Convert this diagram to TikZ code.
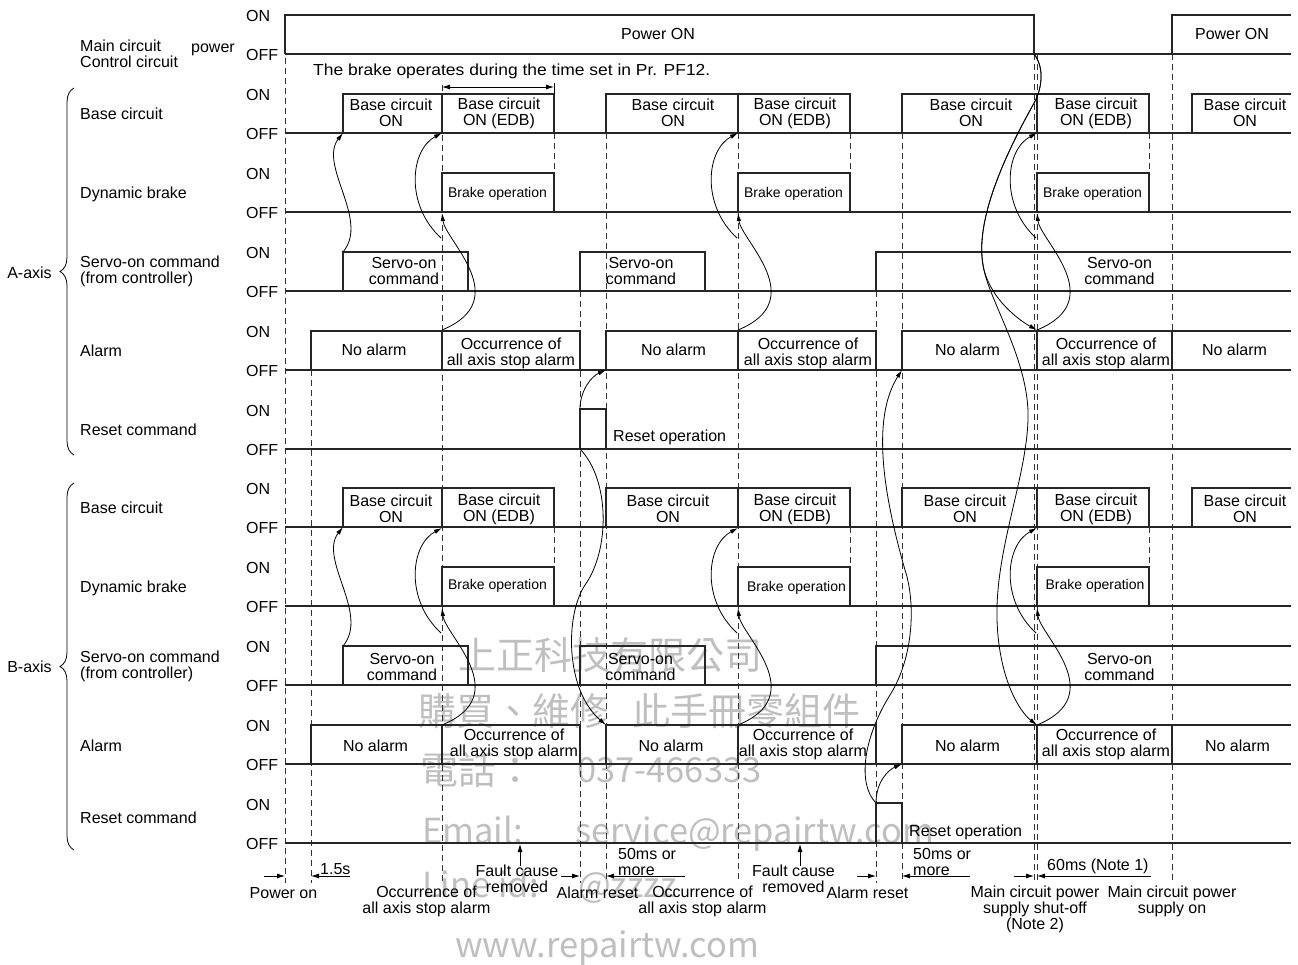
\documentclass[tikz,border=0pt]{standalone}
\usepackage{fontspec}
\usepackage{graphicx}
\setmainfont{Liberation Sans}
\newfontfamily\cjkfont{Noto Sans CJK TC}
\usetikzlibrary{arrows.meta,decorations.pathreplacing}
\newcommand\wpulse[4]{\draw[wave] ({#1},{#3}) -- ({#1},{#4}) -- ({#2},{#4}) -- ({#2},{#3});}
\newcommand\wopen[3]{\draw[wave] ({#1},{#2}) -- ({#1},{#3}) -- (1291,{#3});}
\newcommand\alcurves[3]{%
  \coordinate (al#1) at (#2,{#3});
  \coordinate (db#1) at (#2,{#3-117});
  \coordinate (bs#1) at (#2,{#3-197});
  \coordinate (br#1) at ({#2-1},{#3-92});
  \draw[crv] (al#1) .. controls +(73,-30) and +(3,27) .. (db#1);
  \draw[crv] (br#1) .. controls +(-36,-33) and +(-32,17) .. (bs#1);
}
\begin{document}
\begin{tikzpicture}[x=1pt,y=-1pt,
  wave/.style={draw=black!85,line width=1.1pt},
  dline/.style={draw=black!80,line width=0.9pt,dash pattern=on 6pt off 4pt},
  crv/.style={draw=black,line width=0.8pt,-{Latex[length=8pt,width=4.5pt]}},
  tarr/.style={draw=black,line width=0.8pt,-{Latex[length=8pt,width=5pt]}},
  t/.style={font=\fontsize{16}{16}\selectfont,inner sep=0pt,align=center},
  st/.style={font=\fontsize{14}{14}\selectfont,inner sep=0pt},
  wm/.style={text=black!25,font=\cjkfont\fontsize{38}{38}\selectfont,inner sep=0pt},
  wml/.style={text=black!25,font=\cjkfont\fontsize{34.5}{34.5}\selectfont,inner sep=0pt},
  brc/.style={draw=black,line width=0.8pt,decorate,decoration={brace,amplitude=14pt}}
]
\fill[white] (0,0) rectangle (1298,965);
\useasboundingbox (0,0) rectangle (1298,965);

% watermark
\node[wm,anchor=west] (wm1) at (458,655) {上正科技有限公司};
\node[wm,anchor=west] (wm2) at (418,711) {購買、維修};
\node[wm,anchor=west] (wm3) at (632,711) {此手冊零組件};
\node[wm,anchor=west] (wm4) at (420,770) {電話：};
\node[wml,anchor=base west] (wm5) at (577,782) {037-466333};
\node[wml,anchor=base west] (wm6) at (422,843) {Email:};
\node[wml,anchor=base west] (wm7) at (575,843) {service@repairtw.com};
\node[wml,anchor=base west] (wm8) at (422,897) {Line id:};
\node[wml,anchor=base west] (wm9) at (578,897) {@zzzz};
\node[wml,anchor=base west] (wm10) at (455,957) {www.repairtw.com};

% dashed guide lines
\foreach \x/\a/\b in {285/58/883, 311/370/883, 442/85/883, 580/291/883, 606/133/883,
  738/133/883, 876/291/883, 902/133/883, 1034/54/883, 1037/54/883, 1172/54/883,
  554/133/173, 554/527/567, 850/133/173, 850/527/567, 1149/133/173, 1149/527/567}
  \draw[dline] (\x,\a) -- (\x,\b);

% baselines
\foreach \o in {54,133,212,291,370,449,527,606,685,764,843}
  \draw[wave] (285,\o) -- (1291,\o);

% main circuit power
\wpulse{285}{1034}{54}{15}
\wopen{1172}{54}{15}

% base circuit
\foreach \o in {133,527}{
  \wpulse{343}{442}{\o}{\o-39}
  \wpulse{442}{554}{\o}{\o-39}
  \wpulse{606}{738}{\o}{\o-39}
  \wpulse{738}{850}{\o}{\o-39}
  \wpulse{902}{1037}{\o}{\o-39}
  \wpulse{1037}{1149}{\o}{\o-39}
  \wopen{1192}{\o}{\o-39}
}
% dynamic brake
\foreach \o in {212,606}{
  \wpulse{442}{554}{\o}{\o-39}
  \wpulse{738}{850}{\o}{\o-39}
  \wpulse{1037}{1149}{\o}{\o-39}
}
% servo-on
\foreach \o in {291,685}{
  \wpulse{343}{468}{\o}{\o-39}
  \wpulse{580}{705}{\o}{\o-39}
  \wopen{876}{\o}{\o-39}
}
% alarm
\foreach \o in {370,764}{
  \wpulse{311}{442}{\o}{\o-39}
  \wpulse{442}{580}{\o}{\o-39}
  \wpulse{606}{738}{\o}{\o-39}
  \wpulse{738}{876}{\o}{\o-39}
  \wpulse{902}{1037}{\o}{\o-39}
  \wpulse{1037}{1172}{\o}{\o-39}
  \wopen{1172}{\o}{\o-39}
}
% reset
\wpulse{580}{606}{449}{409}
\wpulse{876}{902}{843}{803}

% ON / OFF labels
\foreach \o [count=\i] in {54,133,212,291,370,449,527,606,685,764,843}{
  \node[t,anchor=west] (on\i) at (246,\o-38) {ON};
  \node[t,anchor=west] (off\i) at (246,\o+1) {OFF};
}

% left labels
\node[t,anchor=west,align=left] (lmain) at (80,53.5) {Main circuit\\Control circuit};
\node[t,anchor=west] (lpow) at (191,50) {power};
\node[t,anchor=west] (laBase) at (80,114) {Base circuit};
\node[t,anchor=west] (laDyn) at (80,194) {Dynamic brake};
\node[t,anchor=west,align=left] (laSrv) at (80,271) {Servo-on command\\(from controller)};
\node[t,anchor=west] (laAlm) at (80,351) {Alarm};
\node[t,anchor=west] (laRst) at (80,430) {Reset command};
\node[t,anchor=west] (lbBase) at (80,508) {Base circuit};
\node[t,anchor=west] (lbDyn) at (80,588) {Dynamic brake};
\node[t,anchor=west,align=left] (lbSrv) at (80,666) {Servo-on command\\(from controller)};
\node[t,anchor=west] (lbAlm) at (80,746) {Alarm};
\node[t,anchor=west] (lbRst) at (80,818) {Reset command};
\draw[brc] (74,455) -- (74,88);
\draw[brc] (74,850) -- (74,483);
\node[t] (axA) at (29.5,273) {A-axis};
\node[t] (axB) at (29.5,667) {B-axis};

% top texts
\node[t] (pon1) at (658,34) {Power ON};
\node[t] (pon2) at (1232,34) {Power ON};
\node[t,anchor=west] (pf12) at (313,71) {\scalebox{1.09}[1]{The brake operates during the time set in Pr. PF12.}};
\coordinate (pfL) at (442,87);
\coordinate (pfR) at (554,87);
\draw[line width=0.8pt,{Latex[length=8pt,width=5pt]}-{Latex[length=8pt,width=5pt]}] (pfL) -- (pfR);
\draw[line width=0.8pt] (554,83) -- (554,94);

% base circuit texts
\foreach \yy/\nm in {113/a,509/b}{
  \node[t] (bc1\nm) at (391,\yy) {Base circuit\\ON};
  \node[t] (bc2\nm) at (499,\yy) {Base circuit\\ON (EDB)};
  \node[t] (bc4\nm) at (795,\yy) {Base circuit\\ON (EDB)};
  \node[t] (bc6\nm) at (1096,\yy) {Base circuit\\ON (EDB)};
  \node[t] (bc7\nm) at (1245,\yy) {Base circuit\\ON};
}
\node[t] (bc3a) at (673,113) {Base circuit\\ON};
\node[t] (bc5a) at (971,113) {Base circuit\\ON};
\node[t] (bc3b) at (668,509) {Base circuit\\ON};
\node[t] (bc5b) at (965,509) {Base circuit\\ON};

% brake operation texts
\node[st] (br1a) at (497.5,194) {Brake operation};
\node[st] (br2a) at (793.5,194) {Brake operation};
\node[st] (br3a) at (1092.5,194) {Brake operation};
\node[st] (br1b) at (497.5,586) {Brake operation};
\node[st] (br2b) at (796.5,588) {Brake operation};
\node[st] (br3b) at (1095,586) {Brake operation};

% servo-on texts
\node[t] (sv1a) at (404,271) {Servo-on\\command};
\node[t] (sv2a) at (641,271) {Servo-on\\command};
\node[t] (sv3a) at (1119.5,271) {Servo-on\\command};
\node[t] (sv1b) at (402,666.5) {Servo-on\\command};
\node[t] (sv2b) at (640.5,666.5) {Servo-on\\command};
\node[t] (sv3b) at (1119.5,666.5) {Servo-on\\command};

% alarm texts
\node[t] (al1a) at (374,350) {No alarm};
\node[t] (al2a) at (511,353) {Occurrence of\\all axis stop alarm};
\node[t] (al3a) at (673.5,350) {No alarm};
\node[t] (al4a) at (808,353) {Occurrence of\\all axis stop alarm};
\node[t] (al5a) at (967.5,350) {No alarm};
\node[t] (al6a) at (1106,353) {Occurrence of\\all axis stop alarm};
\node[t] (al7a) at (1234.5,350) {No alarm};
\node[t] (al1b) at (375.5,746) {No alarm};
\node[t] (al2b) at (514,744) {Occurrence of\\all axis stop alarm};
\node[t] (al3b) at (671,746) {No alarm};
\node[t] (al4b) at (803,744) {Occurrence of\\all axis stop alarm};
\node[t] (al5b) at (967.5,746) {No alarm};
\node[t] (al6b) at (1106,744) {Occurrence of\\all axis stop alarm};
\node[t] (al7b) at (1237.5,746) {No alarm};

% reset operation texts
\node[t,anchor=west] (ro1) at (613,437) {Reset operation};
\node[t,anchor=west] (ro2) at (909,832) {Reset operation};

% causal curves
\coordinate (aSrvOn) at (343,252);
\coordinate (aBaseOn) at (343,133);
\draw[crv] (aSrvOn) .. controls +(27,-32) and +(-25,32) .. (aBaseOn);
\coordinate (bSrvOn) at (343,646);
\coordinate (bBaseOn) at (343,527);
\draw[crv] (bSrvOn) .. controls +(27,-32) and +(-25,32) .. (bBaseOn);

\alcurves{A1}{442}{330}
\alcurves{A2}{738}{330}
\alcurves{A3}{1037}{330}
\alcurves{B1}{442}{725}
\alcurves{B2}{738}{725}
\alcurves{B3}{1037}{725}

\coordinate (aRstOn) at (580,409);
\coordinate (aAlmClr) at (606,370);
\draw[crv] (aRstOn) .. controls +(0,-19) and +(-14,6) .. (aAlmClr);
\coordinate (aRstOff) at (580,449);
\coordinate (bAlmClr) at (606,725);
\draw[crv] (aRstOff) .. controls (610,480) and (610,550) .. (585,585)
  .. controls (565,615) and (565,690) .. (bAlmClr);

\coordinate (bRstOn) at (876,803);
\coordinate (aAlmClr2) at (902,370);
\coordinate (bAlmClr2) at (902,764);
\draw[crv] (bRstOn) .. controls (858,785) and (862,740) .. (890,695)
  .. controls (915,655) and (915,600) .. (905,570)
  .. controls (885,500) and (870,420) .. (aAlmClr2);
\draw[crv] (bRstOn) .. controls +(0,-21) and +(-14,6) .. (bAlmClr2);

\coordinate (mainOff) at (1034,54);
\draw[crv] (mainOff) .. controls (1045,68) and (1042,90) .. (1033,105)
  .. controls (1005,155) and (975,220) .. (983,265)
  .. controls (988,295) and (1015,318) .. (alA3);
\draw[crv] (mainOff) .. controls (1045,68) and (1042,90) .. (1033,105)
  .. controls (1005,155) and (975,220) .. (983,265)
  .. controls (988,300) and (1030,360) .. (1028,420)
  .. controls (1026,480) and (995,550) .. (997,620)
  .. controls (999,680) and (1020,712) .. (alB3);

% bottom timing arrows
\coordinate (t0a) at (264,876); \coordinate (t0b) at (285,876);
\coordinate (t1a) at (350,876); \coordinate (t1b) at (311,876);
\draw[tarr] (t0a) -- (t0b);
\draw[tarr] (t1a) -- (t1b);
\node[t,anchor=west] (d15) at (320,869) {1.5s};
\coordinate (t2a) at (561,876); \coordinate (t2b) at (580,876);
\coordinate (t3a) at (685,876); \coordinate (t3b) at (606,876);
\draw[tarr] (t2a) -- (t2b);
\draw[tarr] (t3a) -- (t3b);
\node[t,anchor=west,align=left] (d50a) at (618,862) {50ms or\\more};
\coordinate (t4a) at (857,876); \coordinate (t4b) at (876,876);
\coordinate (t5a) at (970,876); \coordinate (t5b) at (902,876);
\draw[tarr] (t4a) -- (t4b);
\draw[tarr] (t5a) -- (t5b);
\node[t,anchor=west,align=left] (d50b) at (913,862) {50ms or\\more};
\coordinate (t6a) at (1014,876); \coordinate (t6b) at (1034,876);
\coordinate (t7a) at (1151,876); \coordinate (t7b) at (1037,876);
\draw[tarr] (t6a) -- (t6b);
\draw[tarr] (t7a) -- (t7b);
\node[t,anchor=west] (d60) at (1047,866) {60ms (Note 1)};

% fault cause arrows
\coordinate (fc1b) at (520,866); \coordinate (fc1t) at (520,844);
\coordinate (fc2b) at (800,866); \coordinate (fc2t) at (800,844);
\draw[tarr] (fc1b) -- (fc1t);
\draw[tarr] (fc2b) -- (fc2t);

% bottom labels
\node[t] (bl1) at (283.5,893) {Power on};
\node[t] (bl2) at (426.5,901) {Occurrence of\\all axis stop alarm};
\node[t] (bl3) at (517,878.5) {Fault cause\\removed};
\node[t] (bl4) at (597.5,893) {Alarm reset};
\node[t] (bl5) at (702.5,901) {Occurrence of\\all axis stop alarm};
\node[t] (bl6) at (793.5,878.5) {Fault cause\\removed};
\node[t] (bl7) at (867.5,893) {Alarm reset};
\node[t] (bl8) at (1035,909.5) {Main circuit power\\supply shut-off\\(Note 2)};
\node[t] (bl9) at (1172,901) {Main circuit power\\supply on};
\end{tikzpicture}
\end{document}
